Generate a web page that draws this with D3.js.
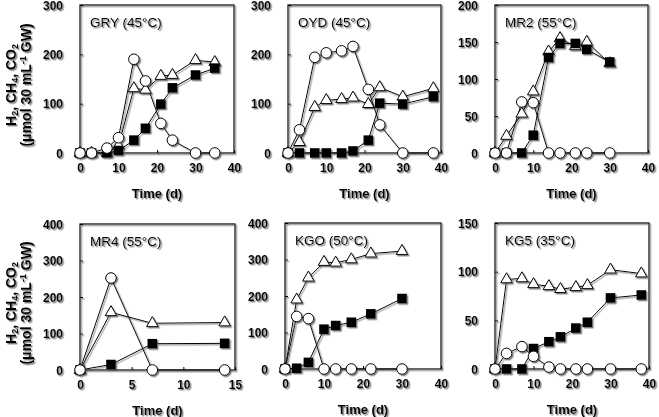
<!DOCTYPE html>
<html><head><meta charset="utf-8">
<script src="https://cdn.jsdelivr.net/npm/d3@7"></script>
<style>
html,body{margin:0;padding:0;background:#fff;}
svg{display:block;font-family:"Liberation Sans",Arial,sans-serif;}
</style></head>
<body>
<svg id="chart" width="659" height="417"></svg>
<script>
// ---- data ----
const panelNames = ["GRY (45\u00B0C)", "OYD (45\u00B0C)", "MR2 (55\u00B0C)", "MR4 (55\u00B0C)", "KGO (50\u00B0C)", "KG5 (35\u00B0C)"];

const gryTime = [0, 3, 7, 10, 14, 17, 21, 24, 30, 35];
const gryH2   = [0, 0, 10, 31, 190, 146, 60, 26, 0, 0];
const gryCH4  = [0, 0, 0, 5, 26, 50, 99, 132, 158, 172];
const gryCO2  = [0, 0, 0, 15, 131, 128, 156, 158, 188, 184];

const oydTime = [0, 3, 7, 10, 14, 17, 21, 24, 30, 38];
const oydH2   = [0, 47, 194, 203, 207, 216, 129, 57, 0, 0];
const oydCH4  = [0, 0, 0, 0, 0, 4, 26, 101, 99, 114];
const oydCO2  = [0, 22, 93, 107, 109, 112, 99, 133, 114, 131];

const mr2Time = [0, 3, 7, 10, 14, 17, 21, 24, 30];
const mr2H2   = [0, 0, 69, 68, 0, 0, 0, 0, 0];
const mr2CH4  = [0, 0, 0, 24, 129, 148, 148, 140, 123];
const mr2CO2  = [0, 23, 53, 83, 137, 155, 144, 150, 121];

const mr4Time = [0, 3, 7, 14];
const mr4H2   = [0, 252, 0, 0];
const mr4CH4  = [0, 15, 72, 73];
const mr4CO2  = [0, 158, 128, 130];

const kgoTime = [0, 3, 6, 10, 13, 17, 22, 30];
const kgoH2   = [0, 144, 138, 0, 0, 0, 0, 0];
const kgoCH4  = [0, 2, 18, 109, 119, 128, 151, 193];
const kgoCO2  = [0, 190, 250, 293, 291, 300, 316, 323];

const kg5Time = [0, 3, 7, 10, 14, 17, 21, 24, 30, 38];
const kg5H2   = [0, 16, 23, 13, 2, 0, 0, 0, 0, 0];
const kg5CH4  = [0, 0, 0, 21, 28, 33, 42, 48, 73, 76];
const kg5CO2  = [0, 92, 93, 87, 85, 82, 84, 86, 102, 98];

const xTicksA = [0, 10, 20, 30, 40];
const xTicksB = [0, 5, 10, 15];
const yTicks300 = [0, 100, 200, 300];
const yTicks200 = [0, 50, 100, 150, 200];
const yTicks400 = [0, 100, 200, 300, 400];
const yTicks150 = [0, 50, 100, 150];

// ---- layout ----
const panels = [
  {name: panelNames[0], t: gryTime, h2: gryH2, ch4: gryCH4, co2: gryCO2, xt: xTicksA, yt: yTicks300, box: [80, 234, 5, 153], left: true},
  {name: panelNames[1], t: oydTime, h2: oydH2, ch4: oydCH4, co2: oydCO2, xt: xTicksA, yt: yTicks300, box: [288, 441, 5, 153]},
  {name: panelNames[2], t: mr2Time, h2: mr2H2, ch4: mr2CH4, co2: mr2CO2, xt: xTicksA, yt: yTicks200, box: [495, 648, 5, 153]},
  {name: panelNames[3], t: mr4Time, h2: mr4H2, ch4: mr4CH4, co2: mr4CO2, xt: xTicksB, yt: yTicks400, box: [80, 235, 224, 370], left: true},
  {name: panelNames[4], t: kgoTime, h2: kgoH2, ch4: kgoCH4, co2: kgoCO2, xt: xTicksA, yt: yTicks400, box: [285, 441, 223, 369]},
  {name: panelNames[5], t: kg5Time, h2: kg5H2, ch4: kg5CH4, co2: kg5CO2, xt: xTicksA, yt: yTicks150, box: [495, 649, 223, 369]}
];

const svg = d3.select("#chart");
const defs = svg.append("defs");
const f = defs.append("filter").attr("id", "sh").attr("x", "-10%").attr("y", "-10%").attr("width", "130%").attr("height", "130%");
f.append("feDropShadow").attr("dx", 1.4).attr("dy", 1.4).attr("stdDeviation", 0.35).attr("flood-color", "#777").attr("flood-opacity", 0.95);

const root = svg.append("g").attr("filter", "url(#sh)");

panels.forEach(p => {
  const [x0, x1, y0, y1] = p.box;
  const xs = d3.scaleLinear().domain([p.xt[0], p.xt[p.xt.length - 1]]).range([x0, x1]);
  const ys = d3.scaleLinear().domain([p.yt[0], p.yt[p.yt.length - 1]]).range([y1, y0]);
  const g = root.append("g");

  // frame
  g.append("rect").attr("x", x0).attr("y", y0).attr("width", x1 - x0).attr("height", y1 - y0)
    .attr("fill", "none").attr("stroke", "#000").attr("stroke-width", 1.2);

  // axes with inward ticks
  const yAx = d3.axisLeft(ys).tickValues(p.yt).tickSize(-3).tickPadding(17).tickFormat(d3.format("d"));
  const gy = g.append("g").attr("transform", `translate(${x0},0)`).call(yAx);
  const xAx = d3.axisBottom(xs).tickValues(p.xt).tickSize(-3).tickPadding(10).tickFormat(d3.format("d"));
  const gx = g.append("g").attr("transform", `translate(0,${y1})`).call(xAx);
  [gy, gx].forEach(a => {
    a.select(".domain").remove();
    a.selectAll(".tick line").attr("stroke", "#000").attr("stroke-width", 1);
    a.selectAll(".tick text").attr("font-size", 12).attr("font-weight", "bold")
      .attr("font-family", "'Liberation Sans',Arial,sans-serif").attr("fill", "#000");
  });
  gy.selectAll(".tick text").attr("dy", "0.36em");

  // x title
  g.append("text").attr("x", (x0 + x1) / 2).attr("y", y1 + 45).attr("text-anchor", "middle")
    .attr("font-size", 13).attr("font-weight", "bold").text("Time (d)");

  // panel label
  g.append("text").attr("x", x0 + 10).attr("y", y0 + 22).attr("font-size", 13.5).text(p.name);

  // series
  const line = d3.line().x(d => xs(d[0])).y(d => ys(d[1]));
  const seriesList = [
    {vals: p.co2, type: "tri"},
    {vals: p.ch4, type: "sq"},
    {vals: p.h2, type: "circ"}
  ];
  seriesList.forEach(s => {
    const pts = p.t.map((t, i) => [t, s.vals[i]]);
    g.append("path").attr("d", line(pts)).attr("fill", "none").attr("stroke", "#000").attr("stroke-width", 1);
  });
  seriesList.forEach(s => {
    const pts = p.t.map((t, i) => [t, s.vals[i]]);
    const mg = g.append("g");
    if (s.type === "circ") {
      mg.selectAll("circle").data(pts).join("circle")
        .attr("cx", d => xs(d[0])).attr("cy", d => ys(d[1])).attr("r", 5.3)
        .attr("fill", "#fff").attr("stroke", "#000").attr("stroke-width", 1);
    } else if (s.type === "sq") {
      mg.selectAll("rect").data(pts).join("rect")
        .attr("x", d => xs(d[0]) - 4.8).attr("y", d => ys(d[1]) - 4.8).attr("width", 9.6).attr("height", 9.6)
        .attr("fill", "#000");
    } else {
      const sym = d3.symbol().type(d3.symbolTriangle).size(58);
      mg.selectAll("path").data(pts).join("path")
        .attr("d", sym).attr("transform", d => `translate(${xs(d[0])},${ys(d[1])})`)
        .attr("fill", "#fff").attr("stroke", "#000").attr("stroke-width", 1);
    }
  });

  // y-axis title for left panels
  if (p.left) {
    const cy = (y0 + y1) / 2 + 6;
    const t1 = g.append("text").attr("transform", `translate(16,${cy}) rotate(-90)`)
      .attr("text-anchor", "middle").attr("font-size", 14).attr("font-weight", "bold");
    t1.append("tspan").text("H");
    t1.append("tspan").attr("font-size", 9).attr("dy", 2).text("2");
    t1.append("tspan").attr("dy", -2).text(", CH");
    t1.append("tspan").attr("font-size", 9).attr("dy", 2).text("4");
    t1.append("tspan").attr("dy", -2).text(", CO");
    t1.append("tspan").attr("font-size", 9).attr("dy", 2).text("2");
    const t2 = g.append("text").attr("transform", `translate(31,${cy}) rotate(-90)`)
      .attr("text-anchor", "middle").attr("font-size", 14).attr("font-weight", "bold");
    t2.append("tspan").text("(\u03BCmol 30 mL");
    t2.append("tspan").attr("font-size", 9).attr("dy", -5).text("-1");
    t2.append("tspan").attr("dy", 5).text(" GW)");
  }
});
</script>
</body></html>
